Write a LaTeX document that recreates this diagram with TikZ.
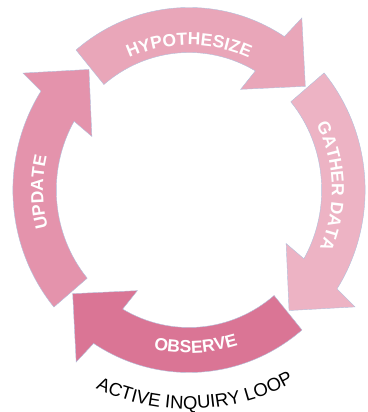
\documentclass[tikz,border=0pt]{standalone}
\usepackage{fontspec}
\setmainfont{Liberation Sans}
\usetikzlibrary{decorations.text}

\definecolor{hypcol}{RGB}{233,166,185}
\definecolor{gathercol}{RGB}{237,179,196}
\definecolor{observecol}{RGB}{218,117,149}
\definecolor{updatecol}{RGB}{228,147,172}
\definecolor{edgeblue}{RGB}{178,192,220}

\begin{document}
\begin{tikzpicture}[x=1pt,y=1pt,
    segment/.style={draw=edgeblue,line width=.4pt,line join=miter},
    looplabel/.style={decorate,decoration={text along path,text align=center,text color=white,
        text={|\bfseries\fontsize{17.5}{19}\selectfont|#1}}},
    looptitle/.style={decorate,decoration={text along path,text align=center,text color=black,
        text={|\fontsize{18.5}{20}\selectfont|#1}}}]
  \useasboundingbox (0,0) rectangle (367,412);
  % the four curved arrows of the ring
  \begin{scope}[shift={(189,222)},xscale=.965]
    \foreach \h/\col [evaluate=\h as \t using \h+71.3] in
        {58.6/hypcol,-31.4/gathercol,-121.4/observecol,148.6/updatecol}
      \draw[segment,fill=\col] (\t:182.5) arc[start angle=\t,end angle=\h-1.4,radius=182.5]
        -- ({\h-2.8}:208) -- ({\h-17.9}:159) -- ({\h+3.4}:114) -- ({\h+1.4}:137.5)
        arc[start angle=\h+1.4,end angle=\t,radius=137.5] -- cycle;
  \end{scope}
  % labels bent along the arrows
  \begin{scope}[shift={(189,222)}]
    \path[looplabel=HYPOTHESIZE] (130:145) arc[start angle=130,end angle=50,radius=145];
    \path[looplabel=GATHER DATA] (41.6:143) arc[start angle=41.6,end angle=-38.4,radius=143];
    \path[looplabel=OBSERVE] (-127.5:163) arc[start angle=-127.5,end angle=-47.5,radius=163];
    \path[looplabel=UPDATE] (220.8:146) arc[start angle=220.8,end angle=140.8,radius=146];
    \path[looptitle=ACTIVE INQUIRY LOOP] (-128.3:219) arc[start angle=-128.3,end angle=-48.3,radius=219];
  \end{scope}
\end{tikzpicture}
\end{document}
